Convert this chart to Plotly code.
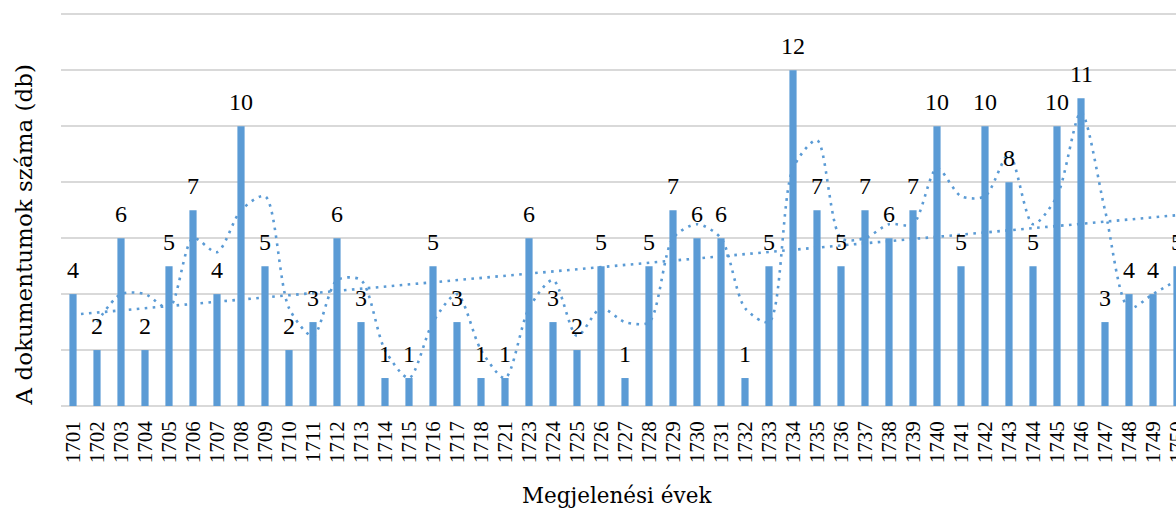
import numpy as np
import plotly.graph_objects as go

# Publication years and number of documents per year
years = ["1701", "1702", "1703", "1704", "1705", "1706", "1707", "1708", "1709", "1710",
         "1711", "1712", "1713", "1714", "1715", "1716", "1717", "1718", "1721", "1723",
         "1724", "1725", "1726", "1727", "1728", "1729", "1730", "1731", "1732", "1733",
         "1734", "1735", "1736", "1737", "1738", "1739", "1740", "1741", "1742", "1743",
         "1744", "1745", "1746", "1747", "1748", "1749", "1750"]
counts = [4, 2, 6, 2, 5, 7, 4, 10, 5, 2,
          3, 6, 3, 1, 1, 5, 3, 1, 1, 6,
          3, 2, 5, 1, 5, 7, 6, 6, 1, 5,
          12, 7, 5, 7, 6, 7, 10, 5, 10, 8,
          5, 10, 11, 3, 4, 4, 5]

BLUE = "#5b9bd5"
GRID = "#d9d9d9"
TITLE_FONT = "DejaVu Serif"
TICK_FONT = "Liberation Serif"

idx = np.arange(len(years))
vals = np.array(counts, dtype=float)

# 2-period moving average
ma_x = idx[1:]
ma_y = (vals[1:] + vals[:-1]) / 2.0

# Linear trend
slope, intercept = np.polyfit(idx, vals, 1)
trend_y = intercept + slope * idx

fig = go.Figure()

fig.add_trace(go.Bar(
    x=idx, y=counts, width=0.3,
    marker=dict(color=BLUE, line=dict(width=0)),
    showlegend=False,
))

fig.add_trace(go.Scatter(
    x=ma_x, y=ma_y, mode="lines",
    line=dict(color=BLUE, width=2.6, dash="2.6px,5.4px", shape="spline", smoothing=0.8),
    showlegend=False, hoverinfo="skip",
))

fig.add_trace(go.Scatter(
    x=idx, y=trend_y, mode="lines",
    line=dict(color=BLUE, width=2.6, dash="2.6px,5.4px"),
    showlegend=False, hoverinfo="skip",
))

# Value labels above the bars
for i, v in zip(idx, counts):
    fig.add_annotation(
        x=i, y=v, text=str(v), showarrow=False,
        xanchor="center", yanchor="middle", yshift=24,
        font=dict(family=TICK_FONT, size=24, color="#000000"),
    )

# Axis titles
fig.add_annotation(
    xref="paper", yref="paper", x=-0.0328, y=0.434,
    text="A dokumentumok száma (db)", showarrow=False, textangle=-90,
    xanchor="center", yanchor="middle",
    font=dict(family=TITLE_FONT, size=23, color="#000000"),
)
fig.add_annotation(
    xref="paper", yref="paper", x=0.493, y=-0.229,
    text="Megjelenési évek", showarrow=False,
    xanchor="center", yanchor="middle",
    font=dict(family=TITLE_FONT, size=21.5, color="#000000"),
)

fig.update_xaxes(
    range=[-0.5, len(years) - 0.5],
    tickmode="array", tickvals=idx, ticktext=years,
    tickangle=-90, tickfont=dict(family=TICK_FONT, size=21, color="#000000"),
    showgrid=False, zeroline=False, ticks="", ticklabelstandoff=10,
    showline=False, fixedrange=True,
)
fig.update_yaxes(
    range=[0, 14.05], tickvals=[0, 2, 4, 6, 8, 10, 12, 14], showticklabels=False,
    showgrid=True, gridcolor=GRID, gridwidth=1.5,
    zeroline=True, zerolinecolor=GRID, zerolinewidth=2,
    fixedrange=True,
)

fig.update_layout(
    width=1200, height=510,
    margin=dict(l=61, r=11, t=13, b=104),
    paper_bgcolor="white", plot_bgcolor="white",
    bargap=0.7,
)

fig.write_html(
    "out.html",
    config={"displayModeBar": False},
    post_script="document.body.style.margin='0';document.body.style.overflow='hidden';"
                "document.documentElement.style.overflow='hidden';",
)
